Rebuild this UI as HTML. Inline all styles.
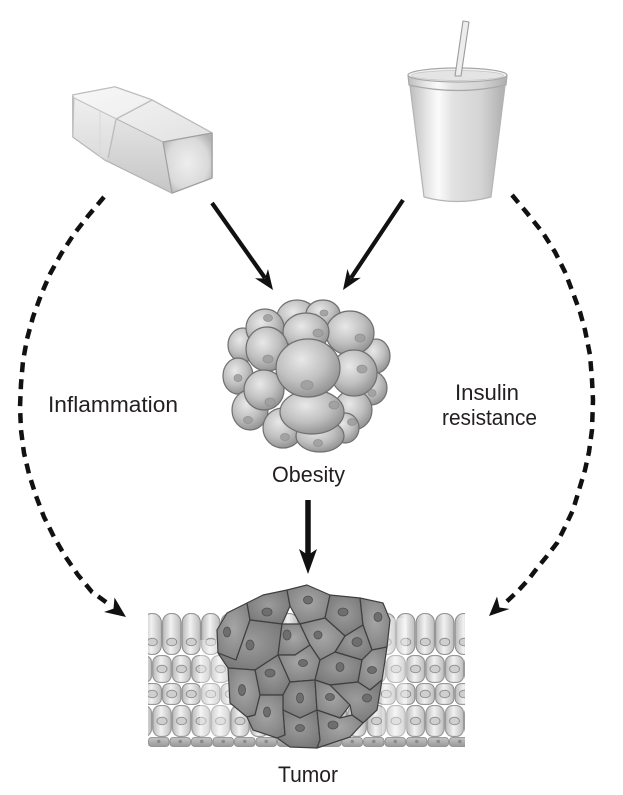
<!DOCTYPE html>
<html><head><meta charset="utf-8"><style>
html,body{margin:0;padding:0;background:#fff;}
svg{display:block;}
text{font-family:"Liberation Sans",Arial,sans-serif;fill:#231f20;font-size:22px;}
</style></head><body>
<svg width="623" height="795" viewBox="0 0 623 795" xmlns="http://www.w3.org/2000/svg">
<defs>
  <linearGradient id="cupg" x1="0" y1="0" x2="1" y2="0">
    <stop offset="0" stop-color="#bdbdbd"/><stop offset="0.18" stop-color="#e6e6e6"/>
    <stop offset="0.3" stop-color="#fbfbfb"/><stop offset="0.45" stop-color="#e2e2e2"/>
    <stop offset="0.75" stop-color="#d4d4d4"/><stop offset="1" stop-color="#aeaeae"/>
  </linearGradient>
  <linearGradient id="topg" x1="0" y1="0" x2="1" y2="1">
    <stop offset="0" stop-color="#f6f6f6"/><stop offset="1" stop-color="#e2e2e2"/>
  </linearGradient>
  <linearGradient id="sideg" x1="0" y1="0" x2="0" y2="1">
    <stop offset="0" stop-color="#ececec"/><stop offset="1" stop-color="#c6c6c6"/>
  </linearGradient>
  <radialGradient id="endg" cx="0.5" cy="0.5" r="0.6">
    <stop offset="0" stop-color="#eeeeee"/><stop offset="0.7" stop-color="#dadada"/><stop offset="1" stop-color="#b4b4b4"/>
  </radialGradient>
  <radialGradient id="fat" cx="0.4" cy="0.35" r="0.7">
    <stop offset="0" stop-color="#e8e8e8"/><stop offset="0.55" stop-color="#c0c0c0"/><stop offset="1" stop-color="#8e8e8e"/>
  </radialGradient>
  <radialGradient id="tum" cx="0.5" cy="0.45" r="0.65">
    <stop offset="0" stop-color="#a6a6a6"/><stop offset="1" stop-color="#7e7e7e"/>
  </radialGradient>
  <radialGradient id="tum2" cx="0.5" cy="0.45" r="0.65">
    <stop offset="0" stop-color="#9c9c9c"/><stop offset="1" stop-color="#757575"/>
  </radialGradient>
  <linearGradient id="ncell" x1="0" y1="0" x2="1" y2="0">
    <stop offset="0" stop-color="#b9b9b9"/><stop offset="0.45" stop-color="#f1f1f1"/><stop offset="1" stop-color="#bcbcbc"/>
  </linearGradient>
  <linearGradient id="bcell" x1="0" y1="0" x2="0" y2="1">
    <stop offset="0" stop-color="#c4c4c4"/><stop offset="1" stop-color="#999"/>
  </linearGradient>
  <pattern id="r1" patternUnits="userSpaceOnUse" x="142.5" y="613" width="19.5" height="42">
    <rect x="0.6" y="0.6" width="18.3" height="40.8" rx="8" ry="9" fill="url(#ncell)" stroke="#8a8a8a" stroke-width="1"/>
    <ellipse cx="9.75" cy="29" rx="5" ry="3.8" fill="#cfcfcf" stroke="#8a8a8a" stroke-width="0.9"/>
  </pattern>
  <pattern id="r2" patternUnits="userSpaceOnUse" x="152.25" y="655" width="19.5" height="28">
    <rect x="0.6" y="0.6" width="18.3" height="26.8" rx="7" ry="7" fill="url(#ncell)" stroke="#8a8a8a" stroke-width="1"/>
    <ellipse cx="9.75" cy="14" rx="5" ry="3.8" fill="#cfcfcf" stroke="#8a8a8a" stroke-width="0.9"/>
  </pattern>
  <pattern id="r3" patternUnits="userSpaceOnUse" x="142.5" y="683" width="19.5" height="22">
    <rect x="0.6" y="0.6" width="18.3" height="20.8" rx="6" ry="6" fill="url(#ncell)" stroke="#8a8a8a" stroke-width="1"/>
    <ellipse cx="9.75" cy="11" rx="5" ry="3.8" fill="#cfcfcf" stroke="#8a8a8a" stroke-width="0.9"/>
  </pattern>
  <pattern id="r4" patternUnits="userSpaceOnUse" x="152.25" y="705" width="19.5" height="32">
    <rect x="0.6" y="0.6" width="18.3" height="30.8" rx="7" ry="8" fill="url(#ncell)" stroke="#8a8a8a" stroke-width="1"/>
    <ellipse cx="9.75" cy="16" rx="5" ry="3.8" fill="#cfcfcf" stroke="#8a8a8a" stroke-width="0.9"/>
  </pattern>
  <pattern id="r5" patternUnits="userSpaceOnUse" x="148" y="737" width="21.5" height="10">
    <rect x="0.5" y="0.5" width="20.5" height="9" rx="3" fill="url(#bcell)" stroke="#858585" stroke-width="0.8"/>
    <circle cx="10.75" cy="4.5" r="1.8" fill="#8a8a8a"/>
  </pattern>
</defs>

<!-- Butter / sugar block -->
<g stroke-linejoin="round">
  <polygon points="73,95 115,87 152,100 212,133 212,178 172,193 105,160 73,137" fill="#d8d8d8" stroke="#a9a9a9" stroke-width="1.5"/>
  <polygon points="73,95 115,87 152,100 212,133 163,142 74,98" fill="url(#topg)" stroke="#bdbdbd" stroke-width="1"/>
  <polygon points="74,98 163,142 172,193 105,160 73,137" fill="url(#sideg)" stroke="#b5b5b5" stroke-width="1"/>
  <polygon points="163,142 212,133 212,178 172,193" fill="url(#endg)" stroke="#a0a0a0" stroke-width="1.2"/>
  <polyline points="152,100 116,119 108,158" fill="none" stroke="#b9b9b9" stroke-width="1.5"/>
  <line x1="100" y1="112" x2="100" y2="157" stroke="#d0d0d0" stroke-width="1"/>
  <polygon points="73,95 115,87 152,100 116,119 108,158 105,160 73,137" fill="#ffffff" opacity="0.18"/>
</g>

<!-- Cup -->
<g stroke-linejoin="round">
  <path d="M410,86 L505,86 L491,197 Q457,206 424,197 Z" fill="url(#cupg)" stroke="#b4b4b4" stroke-width="1.2"/>
  <path d="M408,75 L409,85 Q458,96 506,85 L507,75 Z" fill="url(#cupg)" stroke="#a8a8a8" stroke-width="1.2"/>
  <ellipse cx="457.5" cy="75" rx="49.5" ry="7" fill="#f2f2f2" stroke="#a8a8a8" stroke-width="1.2"/>
  <ellipse cx="457.5" cy="75.5" rx="46" ry="5" fill="#e4e4e4" stroke="#c4c4c4" stroke-width="0.8"/>
  <polygon points="455,76 461,76 469,22 463,21" fill="#ededed" stroke="#9c9c9c" stroke-width="1.1"/>
</g>

<!-- solid arrows -->
<g stroke="#111" fill="#111">
  <line x1="212" y1="203" x2="265" y2="278" stroke-width="4.2"/>
  <polygon points="273,290 255,278.2 265,278.5 268,269" stroke="none"/>
  <line x1="403" y1="200" x2="351" y2="278" stroke-width="4.2"/>
  <polygon points="343,290 347.4,269 350.8,278.4 360.8,277.8" stroke="none"/>
  <line x1="308" y1="500" x2="308" y2="556" stroke-width="5.5"/>
  <polygon points="308,574 299,549 308,555 317,549" stroke="none"/>
</g>

<!-- dashed curved arrows -->
<g fill="none" stroke="#111" stroke-width="4.5" stroke-dasharray="10 7" stroke-linejoin="round">
  <polyline points="104,197 88,216 74,234 61,254 50,274 41,295 33,317 27,339 23,361 21,384 20,407 21,430 24,453 29,474 36,496 44,517 54,537 65,556 78,575 92,592 110,605"/>
  <polyline points="512,195 527,213 543,233 555,252 565,272 573,293 580,312 585,330 590,355 592,380 593,400 592,430 589,452 585,470 579,490 573,510 565,527 557,543 547,556 538,567 528,580 517,592 504,604"/>
</g>
<g fill="#111">
  <polygon points="126,617 104,612 113.5,608.6 114.5,597.5"/>
  <polygon points="489,616 497,596.5 499.5,607.5 509.5,609"/>
</g>

<!-- Fat cell cluster -->
<g fill="url(#fat)" stroke="#6f6f6f" stroke-width="1.2">
  <ellipse cx="297" cy="317" rx="20" ry="17"/>
  <ellipse cx="323" cy="314" rx="17" ry="14"/>
  <ellipse cx="243" cy="345" rx="15" ry="17"/>
  <ellipse cx="238" cy="376" rx="15" ry="18"/>
  <ellipse cx="376" cy="356" rx="14" ry="17"/>
  <ellipse cx="371" cy="388" rx="16" ry="17"/>
  <ellipse cx="250" cy="410" rx="18" ry="20"/>
  <ellipse cx="353" cy="410" rx="19" ry="20"/>
  <ellipse cx="345" cy="428" rx="14" ry="15"/>
  <ellipse cx="283" cy="428" rx="20" ry="20"/>
  <ellipse cx="320" cy="436" rx="24" ry="16"/>
  <ellipse cx="265" cy="328" rx="19" ry="19"/>
  <ellipse cx="350" cy="333" rx="24" ry="22"/>
  <ellipse cx="306" cy="332" rx="23" ry="19"/>
  <ellipse cx="267" cy="349" rx="21" ry="22"/>
  <ellipse cx="264" cy="390" rx="20" ry="20"/>
  <ellipse cx="354" cy="373" rx="23" ry="23"/>
  <ellipse cx="312" cy="412" rx="32" ry="22"/>
  <ellipse cx="308" cy="368" rx="32" ry="29"/>
</g>
<g fill="#a0a0a0" stroke="#8c8c8c" stroke-width="0.8" opacity="0.9">
  <ellipse cx="307" cy="385" rx="6" ry="4.5"/>
  <ellipse cx="268" cy="359" rx="5" ry="4"/>
  <ellipse cx="318" cy="333" rx="5" ry="4"/>
  <ellipse cx="360" cy="338" rx="5" ry="4"/>
  <ellipse cx="362" cy="369" rx="5" ry="4"/>
  <ellipse cx="270" cy="402" rx="5" ry="4"/>
  <ellipse cx="334" cy="405" rx="5" ry="4"/>
  <ellipse cx="248" cy="420" rx="4.5" ry="3.5"/>
  <ellipse cx="285" cy="437" rx="4.5" ry="3.5"/>
  <ellipse cx="318" cy="443" rx="4.5" ry="3.5"/>
  <ellipse cx="352" cy="422" rx="4.5" ry="3.5"/>
  <ellipse cx="372" cy="393" rx="4" ry="3.5"/>
  <ellipse cx="268" cy="318" rx="4.5" ry="3.5"/>
  <ellipse cx="324" cy="313" rx="4" ry="3"/>
  <ellipse cx="238" cy="378" rx="4" ry="3.5"/>
</g>

<!-- Normal tissue -->
<g>
  <rect x="148" y="613" width="317" height="42" fill="url(#r1)"/>
  <rect x="148" y="655" width="317" height="28" fill="url(#r2)"/>
  <rect x="148" y="683" width="317" height="22" fill="url(#r3)"/>
  <rect x="148" y="705" width="317" height="32" fill="url(#r4)"/>
  <rect x="148" y="737" width="317" height="10" fill="url(#r5)"/>
  <rect x="200" y="640" width="30" height="97" fill="#ffffff" opacity="0.35"/>
  <rect x="382" y="618" width="25" height="119" fill="#ffffff" opacity="0.35"/>
</g>

<!-- Tumor -->
<g stroke="#3f3f3f" stroke-width="1.2" stroke-linejoin="round">
  <polygon fill="url(#tum)" points="218,653 217,630 227,613 247,603 250,620 236,660"/>
  <polygon fill="url(#tum2)" points="247,603 263,595 287,590 290,606 282,624 250,620"/>
  <polygon fill="url(#tum)" points="287,590 307,585 330,595 325,618 300,624 290,606"/>
  <polygon fill="url(#tum2)" points="330,595 360,598 363,625 345,636 325,618"/>
  <polygon fill="url(#tum)" points="360,598 383,603 390,620 387,647 372,650 363,625"/>
  <polygon fill="url(#tum2)" points="250,620 282,624 278,655 255,670 228,668 218,653 236,660"/>
  <polygon fill="url(#tum)" points="282,624 300,624 310,645 295,655 278,655"/>
  <polygon fill="url(#tum)" points="300,624 325,618 345,636 335,652 320,660 310,645"/>
  <polygon fill="url(#tum2)" points="345,636 363,625 372,650 362,660 335,652"/>
  <polygon fill="url(#tum)" points="278,655 295,655 310,645 320,660 315,680 290,682"/>
  <polygon fill="url(#tum2)" points="320,660 335,652 362,660 358,682 330,685 315,680"/>
  <polygon fill="url(#tum)" points="362,660 372,650 387,647 382,680 370,690 358,682"/>
  <polygon fill="url(#tum2)" points="255,670 278,655 290,682 283,695 260,695"/>
  <polygon fill="url(#tum)" points="228,668 255,670 260,695 255,715 247,717 230,703"/>
  <polygon fill="url(#tum2)" points="290,682 315,680 317,710 300,718 283,710 283,695"/>
  <polygon fill="url(#tum)" points="315,680 330,685 350,705 340,718 317,710"/>
  <polygon fill="url(#tum2)" points="330,685 358,682 370,690 382,680 377,710 363,723 352,715 350,705"/>
  <polygon fill="url(#tum)" points="260,695 283,695 283,710 285,735 277,738 253,730 247,717 255,715"/>
  <polygon fill="url(#tum2)" points="283,710 300,718 317,710 320,740 317,748 290,747 277,738 285,735"/>
  <polygon fill="url(#tum)" points="317,710 340,718 352,715 363,723 350,737 317,748 320,740"/>
</g>
<g fill="#6e6e6e" stroke="#505050" stroke-width="0.8">
  <ellipse cx="227" cy="632" rx="3.5" ry="5"/>
  <ellipse cx="267" cy="612" rx="5" ry="4"/>
  <ellipse cx="308" cy="600" rx="4.5" ry="4"/>
  <ellipse cx="343" cy="612" rx="5" ry="4"/>
  <ellipse cx="378" cy="617" rx="4" ry="4.5"/>
  <ellipse cx="250" cy="645" rx="4" ry="5"/>
  <ellipse cx="287" cy="635" rx="4" ry="5"/>
  <ellipse cx="318" cy="635" rx="4" ry="4"/>
  <ellipse cx="357" cy="642" rx="5" ry="4.5"/>
  <ellipse cx="303" cy="663" rx="4.5" ry="3.5"/>
  <ellipse cx="340" cy="667" rx="4" ry="4.5"/>
  <ellipse cx="372" cy="670" rx="4.5" ry="3.5"/>
  <ellipse cx="270" cy="673" rx="5" ry="4"/>
  <ellipse cx="242" cy="690" rx="3.5" ry="5.5"/>
  <ellipse cx="300" cy="698" rx="3.5" ry="5"/>
  <ellipse cx="330" cy="697" rx="4.5" ry="3.5"/>
  <ellipse cx="367" cy="698" rx="4.5" ry="4"/>
  <ellipse cx="267" cy="712" rx="3.5" ry="5"/>
  <ellipse cx="300" cy="728" rx="4.5" ry="3.5"/>
  <ellipse cx="333" cy="725" rx="5" ry="4"/>
</g>

<!-- Labels -->
<text x="48" y="412" textLength="130" lengthAdjust="spacingAndGlyphs">Inflammation</text>
<text x="487" y="400" text-anchor="middle" textLength="64" lengthAdjust="spacingAndGlyphs">Insulin</text>
<text x="489.5" y="425" text-anchor="middle" textLength="95" lengthAdjust="spacingAndGlyphs">resistance</text>
<text x="308.5" y="482" text-anchor="middle" textLength="73" lengthAdjust="spacingAndGlyphs">Obesity</text>
<text x="308" y="782" text-anchor="middle" textLength="60" lengthAdjust="spacingAndGlyphs">Tumor</text>
</svg>
</body></html>
